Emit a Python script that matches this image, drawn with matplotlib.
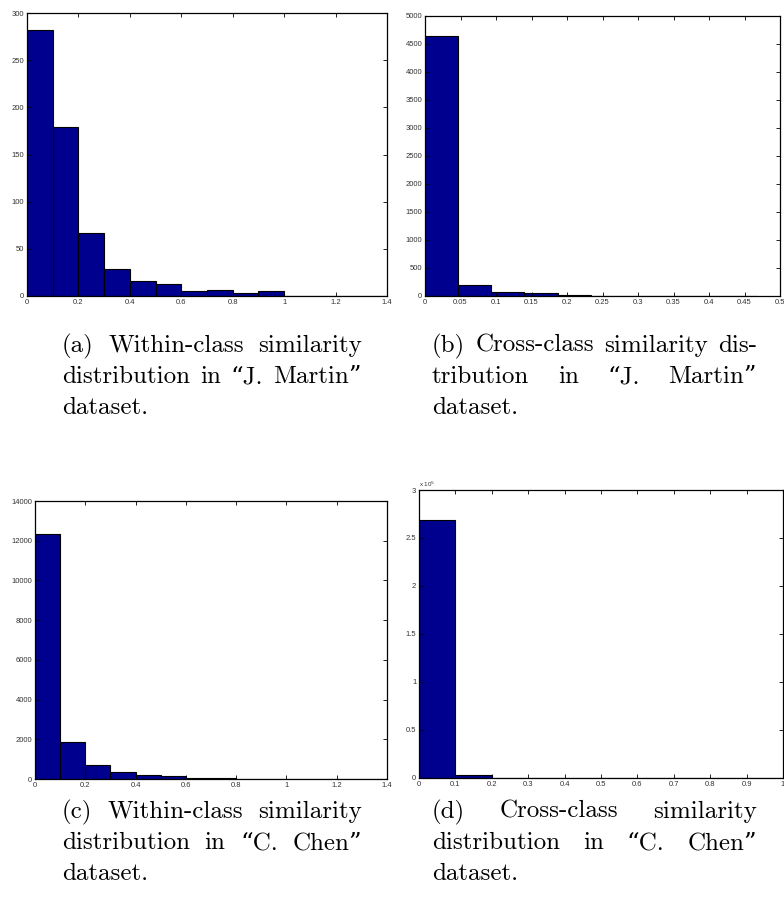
import numpy as np
import matplotlib
matplotlib.use('Agg')
import matplotlib.pyplot as plt
from matplotlib.ticker import FuncFormatter

# ---- data ----
# (a) within-class, J. Martin : bins of 0.1 from 0 to 1.4
edges_a = np.arange(0, 1.41, 0.1)
counts_a = [282, 179, 67, 29, 16, 13, 5, 6, 3, 5, 0, 0, 0, 0]

# (b) cross-class, J. Martin : 10 bins from 0 to ~0.467
edges_b = np.linspace(0, 0.467, 11)
counts_b = [4650, 190, 70, 45, 15, 5, 3, 2, 1, 1]

# (c) within-class, C. Chen
edges_c = np.arange(0, 1.41, 0.1)
counts_c = [12350, 1850, 720, 370, 180, 140, 60, 40, 20, 20, 0, 0, 0, 0]

# (d) cross-class, C. Chen
edges_d = np.arange(0, 1.01, 0.1)
counts_d = [269000, 3000, 300, 100, 50, 20, 10, 5, 2, 1]

captions = {
    'a': ["(a) Within-class similarity", "distribution in \u201cJ. Martin\u201d", "dataset."],
    'b': ["(b) Cross-class similarity dis-", "tribution in \u201cJ. Martin\u201d", "dataset."],
    'c': ["(c) Within-class similarity", "distribution in \u201cC. Chen\u201d", "dataset."],
    'd': ["(d) Cross-class similarity", "distribution in \u201cC. Chen\u201d", "dataset."],
}

W, H = 784, 902
fig = plt.figure(figsize=(W / 100, H / 100), dpi=100)

BAR = '#00008F'
TICKFONT = ['Liberation Sans', 'DejaVu Sans']
CAPFONT = ['cmr10', 'DejaVu Serif']


def add_ax(l, r, t, b):
    return fig.add_axes([l / W, 1 - b / H, (r - l) / W, (b - t) / H])


def fmt(v, pos):
    return '%g' % round(v, 6)


def style(ax, xlim, xt, ylim, yt):
    ax.set_xlim(xlim)
    ax.set_ylim(ylim)
    ax.set_xticks(xt)
    ax.set_yticks(yt)
    ax.xaxis.set_major_formatter(FuncFormatter(fmt))
    ax.yaxis.set_major_formatter(FuncFormatter(fmt))
    ax.tick_params(direction='in', top=True, right=True, length=3, width=0.6,
                   labelsize=5.5, colors='black', labelcolor='#333333', pad=2)
    for lab in ax.get_xticklabels() + ax.get_yticklabels():
        lab.set_family(TICKFONT)
    for s in ax.spines.values():
        s.set_linewidth(0.9)


def hist(ax, edges, counts):
    edges = np.asarray(edges)
    ax.bar(edges[:-1], counts, width=np.diff(edges), align='edge',
           color=BAR, edgecolor='black', linewidth=0.8)


ax_a = add_ax(27, 387, 13, 296)
hist(ax_a, edges_a, counts_a)
style(ax_a, (0, 1.4), np.arange(0, 1.41, 0.2), (0, 300), np.arange(0, 301, 50))

ax_b = add_ax(425, 780, 16, 296)
hist(ax_b, edges_b, counts_b)
style(ax_b, (0, 0.5), np.arange(0, 0.501, 0.05), (0, 5000), np.arange(0, 5001, 500))

ax_c = add_ax(35, 387, 501, 779)
hist(ax_c, edges_c, counts_c)
style(ax_c, (0, 1.4), np.arange(0, 1.41, 0.2), (0, 14000), np.arange(0, 14001, 2000))

ax_d = add_ax(419, 783, 490, 778)
hist(ax_d, edges_d, counts_d)
style(ax_d, (0, 1), np.arange(0, 1.01, 0.1), (0, 300000), np.arange(0, 300001, 50000))
ax_d.yaxis.set_major_formatter(FuncFormatter(lambda v, p: '%g' % (v / 1e5)))
for lab in ax_d.get_yticklabels():
    lab.set_family(TICKFONT)
ax_d.text(0.0, 1.004, r'x 10$^5$', transform=ax_d.transAxes, fontsize=4.5,
          family=TICKFONT, color='#333333', ha='left', va='bottom')

# ---- justified captions ----
fig.canvas.draw()
renderer = fig.canvas.get_renderer()
CAPSIZE = 18


def caption(lines, x0, x1, y0, dy):
    for i, line in enumerate(lines):
        y = 1 - (y0 + i * dy) / H
        words = line.split(' ')
        objs = [fig.text(x0 / W, y, w, fontsize=CAPSIZE, family=CAPFONT,
                         va='baseline', ha='left') for w in words]
        if i == len(lines) - 1 or len(words) == 1:
            # last line: normal spacing
            space = 0.33 * CAPSIZE * 100 / 72
            x = x0
            for o in objs:
                o.set_x(x / W)
                x += o.get_window_extent(renderer).width + space
            continue
        widths = [o.get_window_extent(renderer).width for o in objs]
        gap = (x1 - x0 - sum(widths)) / (len(words) - 1)
        x = x0
        for o, w in zip(objs, widths):
            o.set_x(x / W)
            x += w + gap


caption(captions['a'], 62, 362, 352, 31)
caption(captions['b'], 432, 757, 352, 31)
caption(captions['c'], 62, 362, 818, 31)
caption(captions['d'], 432, 757, 818, 31)

fig.savefig('out.png', dpi=100)
